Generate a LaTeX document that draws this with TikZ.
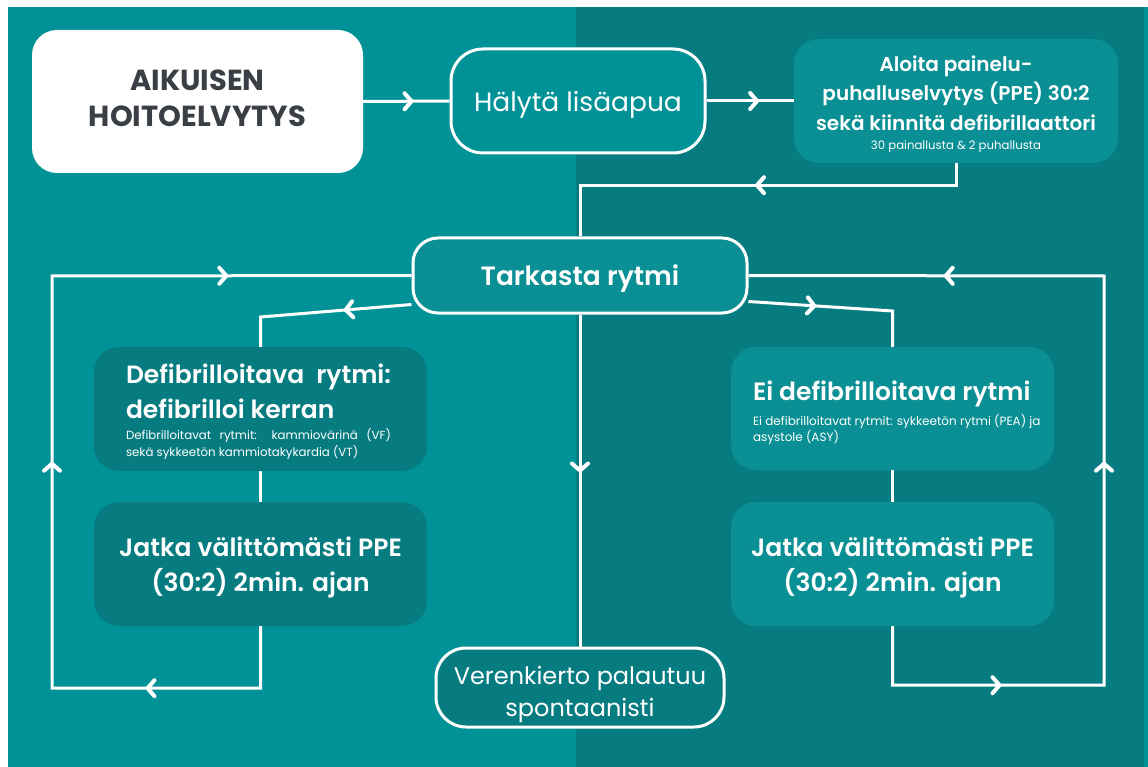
\documentclass[tikz,border=0pt]{standalone}
\usepackage{fontspec}
\setmainfont{Poppins}[BoldFont={* SemiBold}]
\newfontfamily\popheavy{Poppins}[UprightFont={* Bold}]
\usetikzlibrary{decorations.markings}
\pgfdeclarelayer{bg}
\pgfdeclarelayer{lines}
\pgfsetlayers{bg,lines,main}
\definecolor{bgL}{HTML}{009296}
\definecolor{bgR}{HTML}{077C80}
\definecolor{boxlight}{HTML}{0A8F94}
\definecolor{boxdark}{HTML}{077C80}
\definecolor{titlegray}{HTML}{3A3E45}
\newcommand{\fs}[2]{\fontsize{#1}{#2}\selectfont}
\tikzset{
  box/.style={rounded corners=25pt, minimum width=#1, inner sep=0pt, text=white, align=center},
  flow/.style={draw=white, line width=3pt, line join=miter},
  chevron/.style={draw=white, line width=4pt, line cap=round, line join=round},
  tipat/.style={postaction={decorate, decoration={markings, mark=at position #1 with {\draw[chevron] (-7pt,-8pt) -- (0pt,0pt) -- (-7pt,8pt);}}}},
}
\begin{document}
\begin{tikzpicture}[x=1pt,y=-1pt]
\useasboundingbox (0,0) rectangle (1148,767);
\begin{pgfonlayer}{bg}
  \fill[white] (0,0) rectangle (1148,767);
  \fill[bgL] (8,7) rectangle (576,767);
  \fill[bgR] (576,7) rectangle (1144,767);
  \fill[bgL] (1144,7) rectangle (1148,767);
\end{pgfonlayer}

% nodes
\node[box=331pt, minimum height=143pt, fill=white, text=titlegray] (aik) at (197.5,101.5) {\begin{minipage}{320pt}\centering\popheavy\fs{29}{36}AIKUISEN\par HOITOELVYTYS\par\vspace*{7pt}\end{minipage}};
\node[box=254pt, minimum height=104pt, rounded corners=32pt, fill=bgL, draw=white, line width=3pt, font=\fs{26.5}{30}, text depth=0pt] (hal) at (578,101) {Hälytä lisäapua};
\node[box=324pt, minimum height=124pt, fill=boxlight] (alo) at (956,101) {\begin{minipage}{320pt}\centering\vspace*{6pt}\bfseries\fs{20}{29.5}Aloita painelu-\par puhalluselvytys (PPE) 30:2\par sekä kiinnitä defibrillaattori\par\vspace{-4pt}\mdseries\fs{11.7}{23}30 painallusta \& 2 puhallusta\par\end{minipage}};
\node[box=334pt, minimum height=75pt, fill=boxlight, draw=white, line width=3pt, font=\bfseries\fs{26.5}{28}, text depth=0pt] (tar) at (580,275.5) {Tarkasta rytmi};
\node[box=333pt, minimum height=124pt, fill=boxdark] (defib) at (260.5,409) {\hspace*{-4pt}\begin{minipage}{265pt}\vspace*{6pt}\bfseries\fs{25}{35}\makebox[265pt][s]{Defibrilloitava rytmi:}\par defibrilloi kerran\par\vspace{4pt}\mdseries\fs{11.8}{17}\makebox[265pt][s]{Defibrilloitavat rytmit: kammiovärinä (VF)}\par sekä sykkeetön kammiotakykardia (VT)\par\end{minipage}};
\node[box=333pt, minimum height=124pt, fill=boxdark] (jl) at (260.5,564) {\begin{minipage}{320pt}\centering\vspace*{6pt}\bfseries\fs{25}{35}Jatka välittömästi PPE\par (30:2) 2min. ajan\par\end{minipage}};
\node[box=288pt, minimum height=79pt, rounded corners=30pt, fill=boxdark, draw=white, line width=3pt] (ver) at (580,687.5) {\begin{minipage}{280pt}\centering\vspace*{14pt}\fs{24}{32}Verenkierto palautuu\par spontaanisti\par\end{minipage}};
\node[box=323pt, minimum height=123pt, fill=boxlight] (ei) at (892.5,408.5) {\hspace*{13pt}\begin{minipage}{292pt}\vspace*{8pt}\bfseries\fs{25}{30}Ei defibrilloitava rytmi\par\vspace{6pt}\mdseries\fs{12}{16}Ei defibrilloitavat rytmit: sykkeetön rytmi (PEA) ja\par asystole (ASY)\par\end{minipage}};
\node[box=323pt, minimum height=124pt, fill=boxlight] (jr) at (892.5,564) {\begin{minipage}{320pt}\centering\vspace*{6pt}\bfseries\fs{25}{35}Jatka välittömästi PPE\par (30:2) 2min. ajan\par\end{minipage}};

\coordinate (lt) at (52,276);
\coordinate (rt) at (1104,276);
\coordinate (dl) at (260.5,317);
\coordinate (dr) at (892.5,311);

\begin{pgfonlayer}{lines}
  \draw[flow, tipat=0.56] (aik.east) -- (hal.west);
  \draw[flow, tipat=0.58] (hal.east) -- (alo.west);
  \draw[flow, tipat=221pt] (alo.south) -- ++(0,22) -| (tar.north);
  \draw[flow, tipat=0.47] (tar.south) -- (ver.north);
  \draw[flow, tipat=66pt] ([yshift=-29pt]tar.west) -- (dl) -- (defib.north);
  \draw[flow] (defib.south) -- (jl.north);
  \draw[flow, tipat=175pt, tipat=495pt, tipat=857pt] (jl.south) -- ++(0,62) -| (lt) -- (tar.west);
  \draw[flow, tipat=66pt] ([yshift=-26pt]tar.east) -- (dr) -- (ei.north);
  \draw[flow] (ei.south) -- (jr.north);
  \draw[flow, tipat=166pt, tipat=492pt, tipat=838pt] (jr.south) -- ++(0,59) -| (rt) -- (tar.east);
\end{pgfonlayer}
\end{tikzpicture}
\end{document}
